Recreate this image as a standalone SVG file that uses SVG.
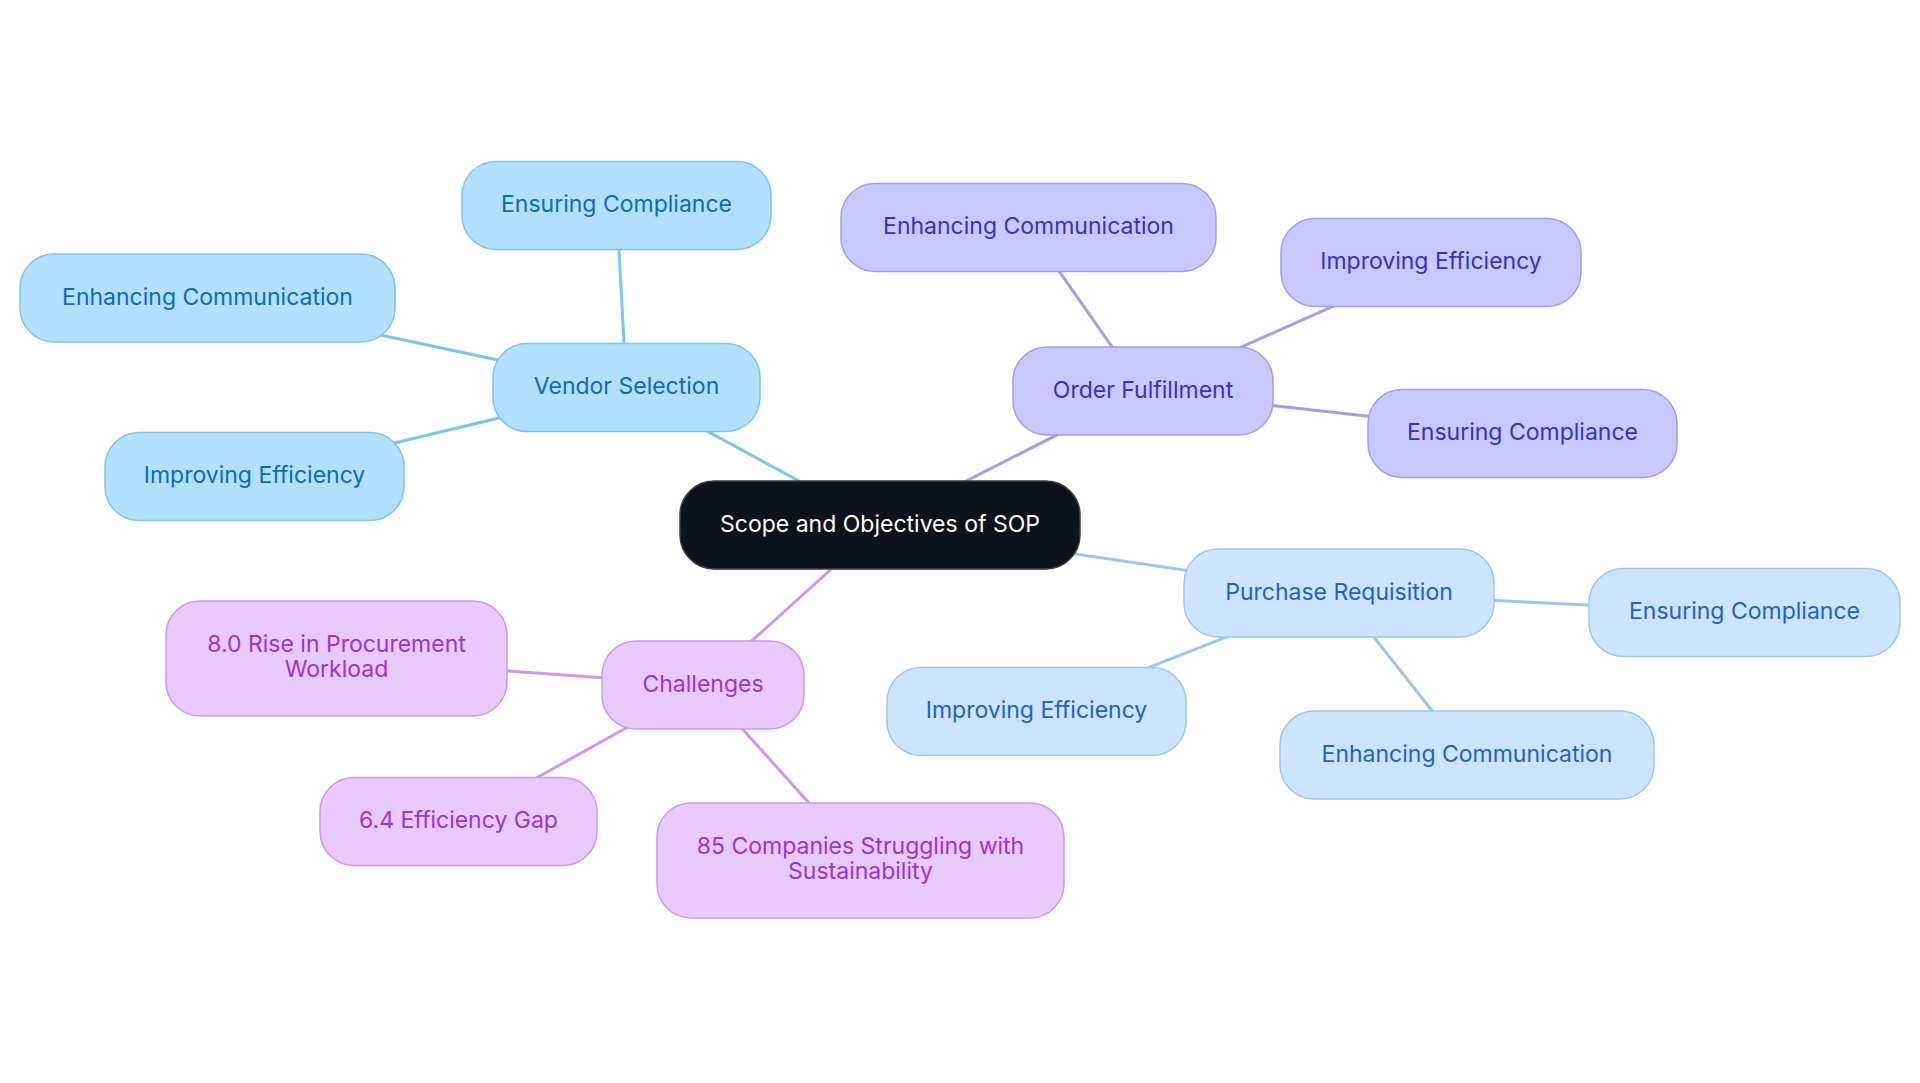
<svg xmlns="http://www.w3.org/2000/svg" width="1920" height="1083" viewBox="0 0 1920 1083">
<style>
  text { font-family: "Inter", "Noto Sans", sans-serif; font-size: 23px; text-anchor: middle; }
  .e { fill: none; stroke-width: 3; stroke-linecap: round; }
  .n rect { stroke-width: 1.5; }
  .vs rect { fill: #b3e0ff; stroke: #7fc3ef; } .vs text { fill: #0b6bc1; }
  .of rect { fill: #c9c9fc; stroke: #9d9ff1; } .of text { fill: #3333c6; }
  .pr rect { fill: #cee4fb; stroke: #9cc6f1; } .pr text { fill: #1c63cd; }
  .ch rect { fill: #e8cafd; stroke: #cc98f0; } .ch text { fill: #9a33dc; }
  .evs { stroke: #7fc3ef; } .eof { stroke: #9d9ff1; } .epr { stroke: #9cc6f1; } .ech { stroke: #cc98f0; }
  .root rect { fill: #0d131b; stroke: #3a3f47; stroke-width: 1.5; } .root text { fill: #ffffff; }
</style>
<rect width="1920" height="1083" fill="#ffffff"/>
<g id="connectors">
  <line class="e evs" x1="880" y1="525" x2="626.5" y2="387.5"/>
  <line class="e evs" x1="626.5" y1="387.5" x2="616.5" y2="205.5"/>
  <line class="e evs" x1="626.5" y1="387.5" x2="207.5" y2="298"/>
  <line class="e evs" x1="626.5" y1="387.5" x2="254.5" y2="476.5"/>
  <line class="e eof" x1="880" y1="525" x2="1143" y2="391"/>
  <line class="e eof" x1="1143" y1="391" x2="1028.5" y2="227.5"/>
  <line class="e eof" x1="1143" y1="391" x2="1431" y2="262.5"/>
  <line class="e eof" x1="1143" y1="391" x2="1522.5" y2="433.5"/>
  <line class="e epr" x1="880" y1="525" x2="1339" y2="593"/>
  <line class="e epr" x1="1339" y1="593" x2="1744.5" y2="612.5"/>
  <line class="e epr" x1="1339" y1="593" x2="1036.5" y2="711.5"/>
  <line class="e epr" x1="1339" y1="593" x2="1467" y2="755"/>
  <line class="e ech" x1="880" y1="525" x2="703" y2="685"/>
  <line class="e ech" x1="703" y1="685" x2="336.5" y2="658.5"/>
  <line class="e ech" x1="703" y1="685" x2="458.5" y2="821.5"/>
  <line class="e ech" x1="703" y1="685" x2="860.5" y2="860.5"/>
</g>
<g id="root" class="n root"><rect x="680" y="481" width="400" height="88" rx="34"/><text x="880" y="531.5">Scope and Objectives of SOP</text></g>
<g id="vendor-selection" class="n vs"><rect x="493" y="343.5" width="267" height="88" rx="34"/><text x="626.5" y="394">Vendor Selection</text></g>
<g id="vs-compliance" class="n vs"><rect x="462" y="161.5" width="309" height="88" rx="34"/><text x="616.5" y="212">Ensuring Compliance</text></g>
<g id="vs-communication" class="n vs"><rect x="20" y="254" width="375" height="88" rx="34"/><text x="207.5" y="304.5">Enhancing Communication</text></g>
<g id="vs-efficiency" class="n vs"><rect x="105" y="432.5" width="299" height="88" rx="34"/><text x="254.5" y="483">Improving Efficiency</text></g>
<g id="order-fulfillment" class="n of"><rect x="1013" y="347" width="260" height="88" rx="34"/><text x="1143" y="397.5">Order Fulfillment</text></g>
<g id="of-communication" class="n of"><rect x="841" y="183.5" width="375" height="88" rx="34"/><text x="1028.5" y="234">Enhancing Communication</text></g>
<g id="of-efficiency" class="n of"><rect x="1281" y="218.5" width="300" height="88" rx="34"/><text x="1431" y="269">Improving Efficiency</text></g>
<g id="of-compliance" class="n of"><rect x="1368" y="389.5" width="309" height="88" rx="34"/><text x="1522.5" y="440">Ensuring Compliance</text></g>
<g id="purchase-requisition" class="n pr"><rect x="1184" y="549" width="310" height="88" rx="34"/><text x="1339" y="599.5">Purchase Requisition</text></g>
<g id="pr-compliance" class="n pr"><rect x="1589" y="568.5" width="311" height="88" rx="34"/><text x="1744.5" y="619">Ensuring Compliance</text></g>
<g id="pr-efficiency" class="n pr"><rect x="887" y="667.5" width="299" height="88" rx="34"/><text x="1036.5" y="718">Improving Efficiency</text></g>
<g id="pr-communication" class="n pr"><rect x="1280" y="711" width="374" height="88" rx="34"/><text x="1467" y="761.5">Enhancing Communication</text></g>
<g id="challenges" class="n ch"><rect x="602" y="641" width="202" height="88" rx="34"/><text x="703" y="691.5">Challenges</text></g>
<g id="ch-workload" class="n ch"><rect x="166" y="601" width="341" height="115" rx="34"/><text x="336.5" y="652"><tspan x="336.5" y="652">8.0 Rise in Procurement</tspan><tspan x="336.5" y="677">Workload</tspan></text></g>
<g id="ch-gap" class="n ch"><rect x="320" y="777.5" width="277" height="88" rx="34"/><text x="458.5" y="828">6.4 Efficiency Gap</text></g>
<g id="ch-sustainability" class="n ch"><rect x="657" y="803" width="407" height="115" rx="34"/><text x="860.5" y="854"><tspan x="860.5" y="854">85 Companies Struggling with</tspan><tspan x="860.5" y="879">Sustainability</tspan></text></g>
</svg>
